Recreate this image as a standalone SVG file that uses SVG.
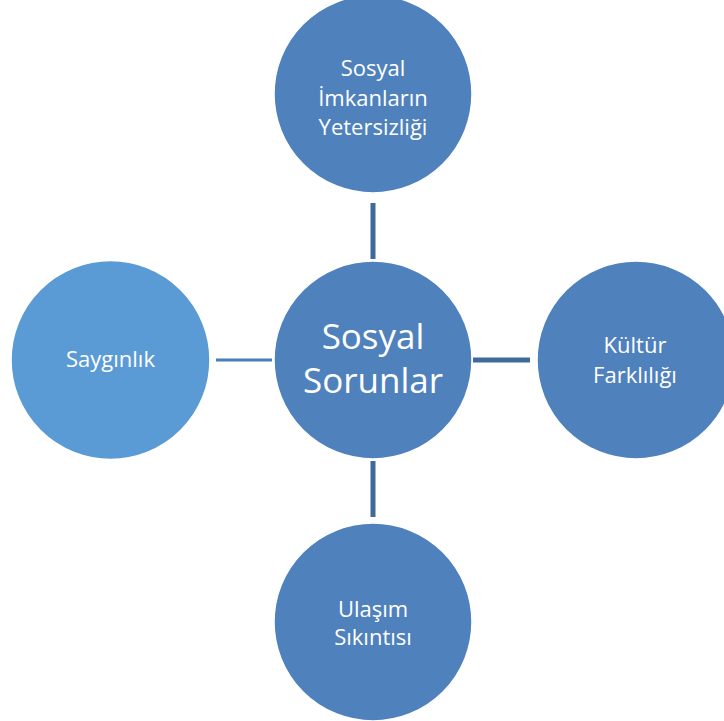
<svg xmlns="http://www.w3.org/2000/svg" width="724" height="721" viewBox="0 0 724 721">
<style>
.n{fill:#4f81bd;stroke:#ffffff;stroke-width:1.5}
.l{fill:#5b9bd5;stroke:#ffffff;stroke-width:1.5}
.t{font-family:"Open Sans","Noto Sans",sans-serif;fill:#ffffff;text-anchor:middle;font-size:22px}
.big{font-size:35px}
.c{stroke:#3e6a9c;stroke-width:5;fill:none}
.cl{stroke:#4a7ebb;stroke-width:3;fill:none}
</style>
<rect width="724" height="721" fill="#ffffff"/>
<g id="connectors">
<line class="c" x1="373" y1="203" x2="373" y2="259"/>
<line class="c" x1="473" y1="360" x2="530" y2="360"/>
<line class="c" x1="373" y1="461" x2="373" y2="517"/>
<line class="cl" x1="216" y1="360" x2="272" y2="360"/>
</g>
<g id="center">
<circle class="n" cx="373" cy="360" r="99"/>
<text class="t big" x="373" y="349">Sosyal</text>
<text class="t big" x="373" y="393">Sorunlar</text>
</g>
<g id="top">
<circle class="n" cx="373" cy="94" r="99"/>
<text class="t" x="373" y="76">Sosyal</text>
<text class="t" x="373" y="106">İmkanların</text>
<text class="t" x="373" y="135">Yetersizliği</text>
</g>
<g id="right">
<circle class="n" cx="636" cy="360" r="99"/>
<text class="t" x="635" y="353">Kültür</text>
<text class="t" x="635" y="383">Farklılığı</text>
</g>
<g id="bottom">
<circle class="n" cx="373" cy="622" r="99"/>
<text class="t" x="373" y="617">Ulaşım</text>
<text class="t" x="373" y="645">Sıkıntısı</text>
</g>
<g id="left">
<circle class="l" cx="110.5" cy="360" r="99.5"/>
<text class="t" x="110.5" y="367">Saygınlık</text>
</g>
</svg>
